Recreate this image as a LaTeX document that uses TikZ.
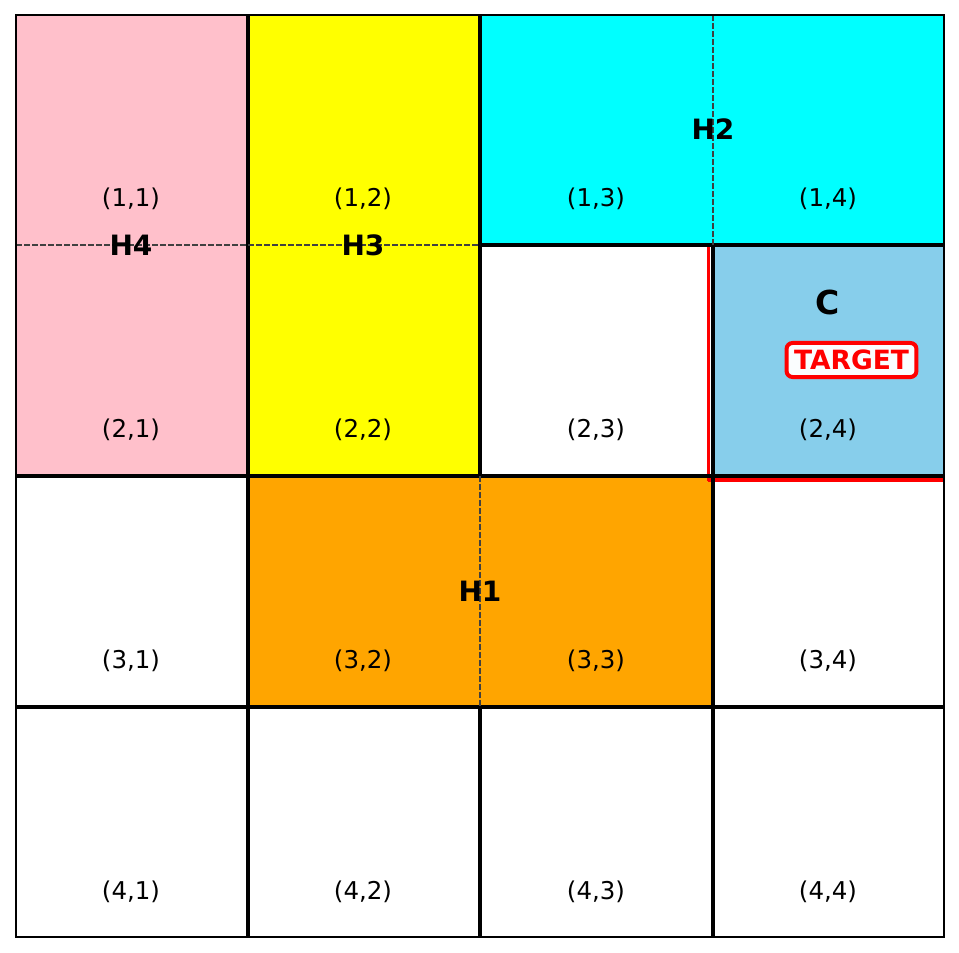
\documentclass[tikz,border=0pt]{standalone}
\usepackage{fontspec}
\setmainfont{DejaVu Sans}
\definecolor{cpink}{HTML}{FFC0CB}
\definecolor{cyellow}{HTML}{FFFF00}
\definecolor{ccyan}{HTML}{00FFFF}
\definecolor{csky}{HTML}{87CEEB}
\definecolor{corange}{HTML}{FFA500}
\definecolor{cred}{HTML}{FF0000}
\begin{document}
\begin{tikzpicture}[x=1pt,y=-1pt,
  gridline/.style={line width=4.2pt,black},
  border/.style={line width=2pt,black},
  mergeline/.style={line width=1.4pt,black!75,dash pattern=on 5.5pt off 2.5pt},
  celllabel/.style={font=\fontsize{24.5}{28}\selectfont,inner sep=0pt},
  hlabel/.style={font=\fontsize{28}{32}\selectfont\bfseries,inner sep=0pt},
  targetbox/.style={draw=cred,line width=4pt,rounded corners=6pt,fill=white!96!csky,text=cred,font=\fontsize{26.5}{30}\selectfont\bfseries,inner xsep=7.5pt,inner ysep=7pt}]
\useasboundingbox (0,0) rectangle (959,953);
% fills
\fill[white] (16,15) rectangle (944,937);
\fill[cpink] (16,15) rectangle (248,476);
\fill[cyellow] (248,15) rectangle (480,476);
\fill[ccyan] (480,15) rectangle (944,245);
\fill[csky] (713,245) rectangle (944,476);
\fill[corange] (248,476) rectangle (713,707);
% red target outline
\draw[cred,line width=3pt] (708,245) -- (708,481);
\draw[cred,line width=4pt] (708,479.5) -- (944,479.5);
% solid grid lines
\draw[gridline] (248,15) -- (248,937);
\draw[gridline] (480,15) -- (480,476);
\draw[gridline] (480,707) -- (480,937);
\draw[gridline] (713,245) -- (713,937);
\draw[gridline] (480,245) -- (944,245);
\draw[gridline] (16,476) -- (944,476);
\draw[gridline] (16,707) -- (944,707);
% dashed internal lines of merged regions
\draw[mergeline] (16,245) -- (480,245);
\draw[mergeline] (713,15) -- (713,245);
\draw[mergeline] (480,476) -- (480,707);
% outer border
\draw[border] (16,15) rectangle (944,937);
% cell labels
\node[celllabel] (c11) at (131,199) {(1,1)};
\node[celllabel] (c12) at (363,199) {(1,2)};
\node[celllabel] (c13) at (596,199) {(1,3)};
\node[celllabel] (c14) at (828,199) {(1,4)};
\node[celllabel] (c21) at (131,430) {(2,1)};
\node[celllabel] (c22) at (363,430) {(2,2)};
\node[celllabel] (c23) at (596,430) {(2,3)};
\node[celllabel] (c24) at (828,430) {(2,4)};
\node[celllabel] (c31) at (131,661) {(3,1)};
\node[celllabel] (c32) at (363,661) {(3,2)};
\node[celllabel] (c33) at (596,661) {(3,3)};
\node[celllabel] (c34) at (828,661) {(3,4)};
\node[celllabel] (c41) at (131,892) {(4,1)};
\node[celllabel] (c42) at (363,892) {(4,2)};
\node[celllabel] (c43) at (596,892) {(4,3)};
\node[celllabel] (c44) at (828,892) {(4,4)};
% region labels
\node[hlabel] (h4) at (131,245) {H4};
\node[hlabel] (h3) at (363,245) {H3};
\node[hlabel] (h2) at (713,129) {H2};
\node[hlabel] (h1) at (480,591) {H1};
\node[font=\fontsize{33}{38}\selectfont\bfseries,inner sep=0pt] (cc) at (828,302) {C};
\node[targetbox] (target) at (851.5,360) {TARGET};
\end{tikzpicture}
\end{document}
